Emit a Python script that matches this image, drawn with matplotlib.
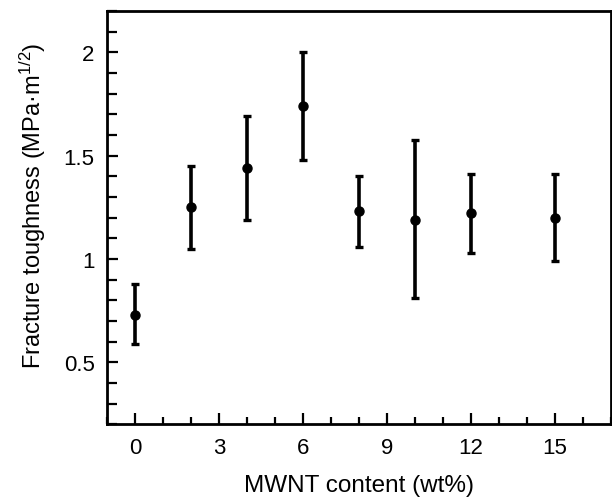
import matplotlib
matplotlib.use("Agg")
import matplotlib.pyplot as plt
from matplotlib.ticker import MultipleLocator

# ------------------------------------------------------------
# DATA
# ------------------------------------------------------------
mwnt = [0, 2, 4, 6, 8, 10, 12, 15]
toughness = [0.73, 1.25, 1.44, 1.74, 1.23, 1.19, 1.22, 1.20]
upper = [0.88, 1.45, 1.69, 2.00, 1.40, 1.575, 1.41, 1.41]
lower = [0.59, 1.05, 1.19, 1.48, 1.06, 0.81, 1.03, 0.99]

err_low = [t - lo for t, lo in zip(toughness, lower)]
err_high = [hi - t for t, hi in zip(toughness, upper)]

plt.rcParams['font.family'] = ['Liberation Sans', 'DejaVu Sans']
plt.rcParams['mathtext.fontset'] = 'custom'
plt.rcParams['mathtext.rm'] = 'Liberation Sans'
plt.rcParams['mathtext.it'] = 'Liberation Sans'

fig = plt.figure(figsize=(6.12, 5.02), dpi=100)
ax = fig.add_axes([0.175, 0.153, 0.823, 0.823])

ax.errorbar(mwnt, toughness, yerr=[err_low, err_high], fmt='o', color='black',
            markersize=6.5, elinewidth=2.6, capsize=2.8, capthick=2.4)

ax.set_xlim(-1, 17)
ax.set_ylim(0.2, 2.2)
ax.xaxis.set_major_locator(MultipleLocator(3))
ax.xaxis.set_minor_locator(MultipleLocator(1))
ax.yaxis.set_major_locator(MultipleLocator(0.5))
ax.yaxis.set_minor_locator(MultipleLocator(0.1))
ax.set_yticks([0.5, 1.0, 1.5, 2.0])
ax.set_yticklabels(['0.5', '1', '1.5', '2'])

ax.tick_params(which='both', direction='in', width=1.6, labelsize=16)
ax.tick_params(which='major', length=8, pad=9)
ax.tick_params(which='minor', length=5)
ax.tick_params(axis='y', which='minor', length=7)

for side in ['left', 'bottom', 'top', 'right']:
    ax.spines[side].set_linewidth(2)

ax.set_xlabel('MWNT content (wt%)', fontsize=17.5, labelpad=12)
ax.set_ylabel('Fracture toughness (MPa·m$^{1/2}$)', fontsize=17)
ax.yaxis.set_label_coords(-0.118, 0.53)

fig.savefig('out.png', dpi=100)
